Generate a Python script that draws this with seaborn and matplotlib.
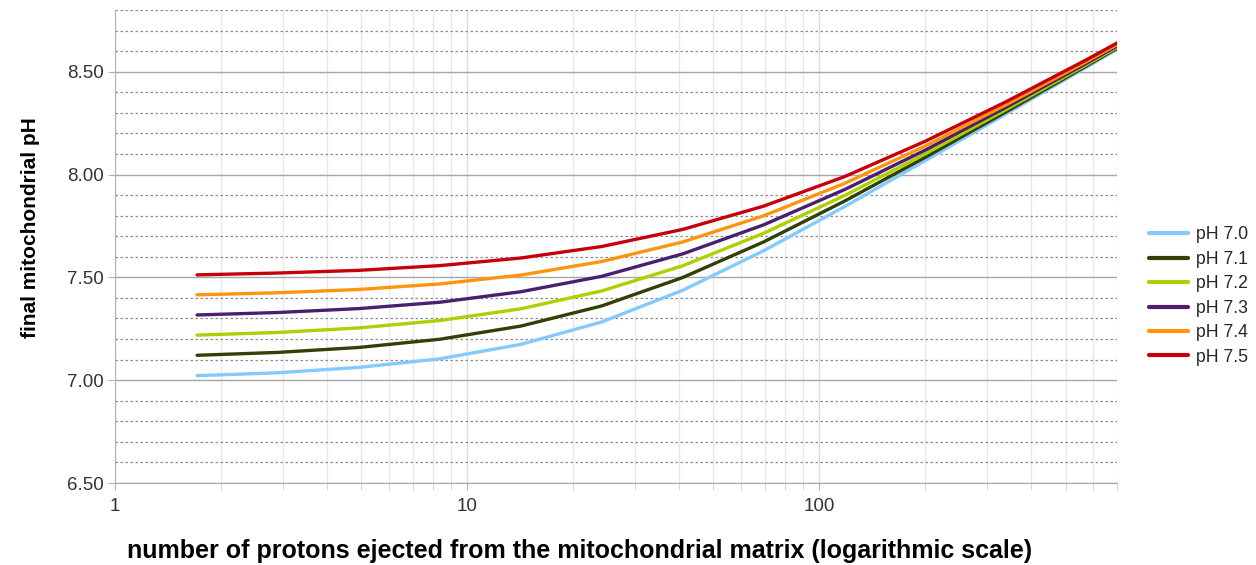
import numpy as np
import pandas as pd
import seaborn as sns
import matplotlib
matplotlib.use("Agg")
import matplotlib.pyplot as plt
from matplotlib.ticker import LogLocator, MultipleLocator, FixedLocator, FuncFormatter, NullFormatter

# protons ejected
protons = [1.71, 2.90, 4.92, 8.36, 14.2, 24.1, 40.9, 69.4, 118, 200, 339, 576, 977]

ph_70 = [7.022, 7.036, 7.062, 7.104, 7.174, 7.283, 7.437, 7.629, 7.844, 8.068, 8.295, 8.524, 8.754]
ph_71 = [7.121, 7.135, 7.159, 7.199, 7.263, 7.361, 7.499, 7.672, 7.871, 8.084, 8.305, 8.530, 8.757]
ph_72 = [7.219, 7.232, 7.254, 7.290, 7.347, 7.434, 7.556, 7.714, 7.898, 8.101, 8.316, 8.536, 8.761]
ph_73 = [7.317, 7.329, 7.348, 7.379, 7.430, 7.505, 7.614, 7.755, 7.927, 8.119, 8.327, 8.543, 8.765]
ph_74 = [7.415, 7.425, 7.441, 7.468, 7.511, 7.577, 7.672, 7.799, 7.957, 8.139, 8.339, 8.551, 8.769]
ph_75 = [7.512, 7.521, 7.534, 7.557, 7.594, 7.650, 7.733, 7.846, 7.990, 8.162, 8.354, 8.560, 8.775]

series_names = ["pH 7.0", "pH 7.1", "pH 7.2", "pH 7.3", "pH 7.4", "pH 7.5"]
series_colors = ["#83caff", "#314004", "#aecf00", "#4b1f6f", "#ff950e", "#c5000b"]

frames = []
for name, vals in zip(series_names, [ph_70, ph_71, ph_72, ph_73, ph_74, ph_75]):
    frames.append(pd.DataFrame({"protons": protons, "pH": vals, "series": name}))
df = pd.concat(frames, ignore_index=True)

sns.set_style("white")
plt.rcParams["font.family"] = ["Liberation Sans", "DejaVu Sans"]

fig = plt.figure(figsize=(12.56, 5.65), dpi=100)
ax = fig.add_axes([115 / 1256, 1 - 483 / 565, (1117 - 115) / 1256, (483 - 10) / 565])

sns.lineplot(data=df, x="protons", y="pH", hue="series", hue_order=series_names,
             palette=series_colors, linewidth=2.4, ax=ax, legend=True)

ax.set_xscale("log")
ax.set_xlim(1, 700)
ax.set_ylim(6.5, 8.8)

# y axis: majors every 0.5, dotted minors every 0.1
ax.yaxis.set_major_locator(FixedLocator([6.5, 7.0, 7.5, 8.0, 8.5]))
ax.yaxis.set_minor_locator(MultipleLocator(0.1))
ax.yaxis.set_major_formatter(FuncFormatter(lambda v, p: f"{v:.2f}"))

ax.xaxis.set_major_locator(FixedLocator([1, 10, 100]))
ax.xaxis.set_major_formatter(FuncFormatter(lambda v, p: f"{v:g}"))
ax.xaxis.set_minor_locator(LogLocator(base=10, subs=np.arange(2, 10)))
ax.xaxis.set_minor_formatter(NullFormatter())

ax.grid(which="major", axis="y", color="#a6a6a6", linewidth=1.0, linestyle="-")
ax.grid(which="minor", axis="y", color="#8c8c8c", linewidth=0.9, linestyle=(0, (2, 2)))
ax.grid(which="major", axis="x", color="#dddddd", linewidth=1.0)
ax.grid(which="minor", axis="x", color="#e8e8e8", linewidth=1.0)
ax.set_axisbelow(True)

for side in ["top", "right"]:
    ax.spines[side].set_visible(False)
ax.spines["left"].set_color("#b3b3b3")
ax.spines["bottom"].set_color("#a6a6a6")

ax.tick_params(axis="y", which="major", length=5, color="#b3b3b3", labelsize=13.5,
               labelcolor="#333333", pad=3, left=True)
ax.tick_params(axis="y", which="minor", length=0)
ax.tick_params(axis="x", which="major", length=5, color="#b3b3b3", labelsize=13.5,
               labelcolor="#333333", pad=6, bottom=True)
ax.tick_params(axis="x", which="minor", length=5, color="#d0d0d0", bottom=True)

ax.set_xlabel("")
ax.set_ylabel("")
fig.text(30 / 1256, 1 - 228 / 565, "final mitochondrial pH", rotation=90,
         ha="center", va="center", fontsize=15, fontweight="bold", color="black")
fig.text(580 / 1256, 1 - 551 / 565,
         "number of protons ejected from the mitochondrial matrix (logarithmic scale)",
         ha="center", va="center", fontsize=18, fontweight="bold", color="black")

handles, labels = ax.get_legend_handles_labels()
ax.legend(handles, labels, loc="center left", bbox_to_anchor=(1149 / 1256, 1 - 296 / 565),
          bbox_transform=fig.transFigure, frameon=False, fontsize=12.7,
          handlelength=2.2, handletextpad=0.45, labelspacing=0.42, borderaxespad=0,
          borderpad=0)
for line in ax.get_legend().get_lines():
    line.set_linewidth(3)

fig.savefig("out.png", dpi=100)
